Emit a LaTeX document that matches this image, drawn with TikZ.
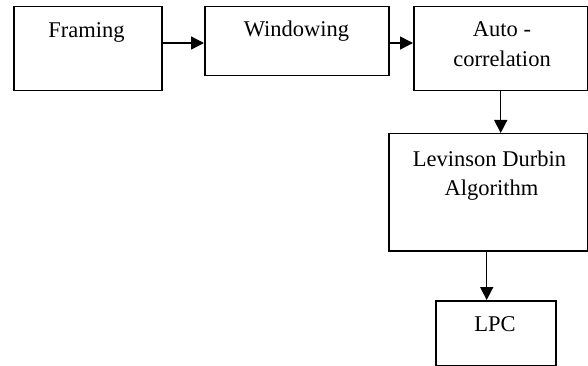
\documentclass[tikz,border=0pt]{standalone}
\usepackage{fontspec}
\setmainfont{Liberation Serif}
\usetikzlibrary{arrows.meta}
\begin{document}
\begin{tikzpicture}[x=1pt,y=-1pt,
  box/.style={draw=black,line width=1.5pt,inner sep=0pt,anchor=north west},
  txt/.style={inner sep=0pt,anchor=base,font=\fontsize{22.5}{30}\selectfont},
  conn/.style={line width=1.5pt,-{Triangle[length=13pt,width=13pt]}}]
\useasboundingbox (0,0) rectangle (588,366);
\node[box,minimum width=148pt,minimum height=84pt] (framing) at (13,6) {};
\node[box,minimum width=184pt,minimum height=69pt] (windowing) at (204,6) {};
\node[box,minimum width=174pt,minimum height=84pt] (auto) at (413,6) {};
\node[box,minimum width=199pt,minimum height=117pt] (levinson) at (388,133) {};
\node[box,minimum width=120pt,minimum height=65pt] (lpc) at (435,300) {};
\node[txt] (tframing) at (86.5,38) {Framing};
\node[txt] (twindowing) at (296.5,37) {Windowing};
\node[txt] (tauto1) at (502,37) {Auto -};
\node[txt] (tauto2) at (502,67) {correlation};
\node[txt] (tlev1) at (489.5,166) {Levinson Durbin};
\node[txt] (tlev2) at (491.5,195) {Algorithm};
\node[txt] (tlpc) at (495,331) {LPC};
\draw[conn] (framing.east |- 0,43) -- (windowing.west |- 0,43);
\draw[conn] (windowing.east |- 0,43) -- (auto.west |- 0,43);
\draw[conn] (auto.south -| 500.7,0) -- (levinson.north -| 500.7,0);
\draw[conn] (levinson.south -| 486.7,0) -- (lpc.north -| 486.7,0);
\end{tikzpicture}
\end{document}
